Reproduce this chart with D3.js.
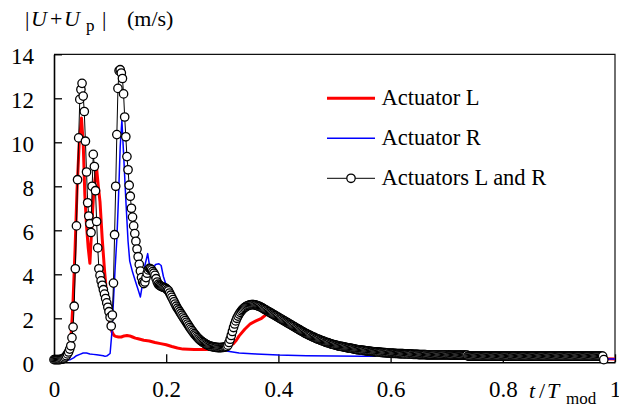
<!DOCTYPE html>
<html><head><meta charset="utf-8">
<script src="https://cdn.jsdelivr.net/npm/d3@7"></script>
<style>body{margin:0;background:#fff} svg{display:block}</style>
</head><body>
<svg id="c" width="619" height="407"></svg>
<script>
// ---- data ----
const seriesNames = ["Actuator L", "Actuator R", "Actuators L and R"];
const xTicks = [0, 0.2, 0.4, 0.6, 0.8, 1];
const yTicks = [0, 2, 4, 6, 8, 10, 12, 14];

// Actuator L (red)
const redT = [0,0.01,0.02,0.025,0.028,0.031,0.034,0.0375,0.041,0.045,0.049,0.052,0.055,0.058,0.061,0.064,0.067,0.070,0.073,0.076,0.079,0.082,0.086,0.090,0.094,0.098,0.101,0.104,0.107,0.110,0.115,0.120,0.125,0.130,0.135,0.140,0.145,0.150,0.160,0.170,0.180,0.190,0.200,0.210,0.220,0.230,0.250,0.270,0.290,0.310,0.320,0.325,0.330,0.340,0.350,0.360,0.370,0.380,0.390,0.400,0.450,0.500,0.550,0.600,0.700,0.800,1.000];
const redV = [0.12,0.12,0.15,0.3,0.7,1.4,2.8,5.1,7.8,10.0,11.1,10.0,7.6,6.2,5.2,4.5,6.0,7.4,8.3,8.8,8.0,7.3,5.6,4.2,3.0,2.0,1.55,1.35,1.22,1.18,1.15,1.15,1.2,1.22,1.2,1.15,1.1,1.07,1.0,0.97,0.9,0.85,0.8,0.72,0.65,0.6,0.58,0.58,0.6,0.7,0.85,1.0,1.2,1.5,1.75,1.88,2.0,2.2,2.3,2.1,1.3,0.85,0.58,0.42,0.3,0.26,0.15];

// Actuator R (blue)
const blueT = [0,0.02,0.029,0.035,0.040,0.046,0.052,0.058,0.064,0.070,0.076,0.082,0.088,0.091,0.095,0.100,0.103,0.106,0.109,0.112,0.115,0.118,0.121,0.124,0.128,0.132,0.135,0.140,0.145,0.150,0.154,0.158,0.162,0.167,0.169,0.172,0.176,0.181,0.187,0.191,0.195,0.200,0.210,0.220,0.240,0.260,0.280,0.290,0.300,0.310,0.330,0.360,0.380,0.400,0.450,0.500,0.550,0.580,0.650,0.800,1.000];
const blueV = [0.1,0.1,0.12,0.2,0.3,0.36,0.42,0.42,0.38,0.36,0.34,0.32,0.3,0.27,0.3,0.4,1.3,2.8,4.3,5.6,7.5,9.8,11.0,9.5,7.4,5.5,4.6,4.1,3.7,3.3,2.97,3.6,4.4,4.94,4.6,4.15,4.2,4.45,4.48,4.4,3.9,3.5,3.1,2.5,1.7,1.05,0.72,0.62,0.58,0.5,0.42,0.38,0.36,0.33,0.3,0.29,0.28,0.27,0.25,0.22,0.15];

// Actuators L and R (black, circles), sampled every tStep in t/Tmod
const tStep = 0.002;
const bothV = [
0.12,0.12,0.12,0.12,0.12,0.12,0.13,0.14,0.16,0.19,
0.24,0.30,0.38,0.47,0.60,0.75,1.12,1.60,2.55,4.25,
6.20,8.30,10.20,11.95,12.40,12.68,12.10,11.40,10.05,8.65,
7.25,6.65,6.30,5.90,8.00,9.45,8.90,7.80,6.40,5.20,
4.25,3.95,3.70,3.50,3.30,3.10,2.90,2.70,2.50,2.30,
2.05,1.65,2.15,3.60,5.80,8.00,10.35,12.45,13.25,13.30,
13.15,12.90,12.20,11.15,10.25,9.35,8.75,8.05,7.55,7.00,
6.60,6.20,5.85,5.50,5.15,4.80,4.45,4.15,3.85,3.65,
3.58,3.65,3.85,4.05,4.20,4.27,4.25,4.20,4.12,4.05,
3.95,3.80,3.65,3.55,3.50,3.47,3.44,3.42,3.40,3.38,
3.35,3.30,3.25,3.15,3.05,2.95,2.85,2.75,2.65,2.55,
2.46,2.38,2.30,2.22,2.14,2.06,1.98,1.90,1.82,1.74,
1.66,1.58,1.51,1.44,1.37,1.30,1.24,1.18,1.12,1.07,
1.02,0.98,0.94,0.90,0.87,0.84,0.81,0.78,0.76,0.74,
0.72,0.71,0.70,0.69,0.68,0.68,0.67,0.67,0.67,0.67,
0.68,0.68,0.69,0.70,0.72,0.78,0.90,1.05,1.22,1.40,
1.58,1.74,1.88,2.00,2.10,2.19,2.27,2.34,2.40,2.45,
2.49,2.53,2.56,2.58,2.60,2.61,2.62,2.62,2.62,2.61,
2.60,2.58,2.56,2.54,2.52,2.49,2.46,2.43,2.40,2.37,
2.34,2.31,2.28,2.25,2.22,2.19,2.16,2.13,2.10,2.07,
2.04,2.01,1.98,1.95,1.92,1.89,1.86,1.83,1.80,1.77,
1.74,1.71,1.68,1.65,1.62,1.59,1.56,1.53,1.50,1.47,
1.44,1.41,1.38,1.35,1.32,1.30,1.27,1.25,1.22,1.20,
1.17,1.15,1.13,1.10,1.08,1.06,1.04,1.02,1.00,0.98,
0.96,0.94,0.92,0.90,0.89,0.87,0.85,0.84,0.82,0.81,
0.79,0.78,0.77,0.75,0.74,0.73,0.72,0.71,0.70,0.69,
0.68,0.67,0.66,0.65,0.64,0.63,0.62,0.61,0.60,0.59,
0.58,0.57,0.57,0.56,0.55,0.54,0.54,0.53,0.52,0.52,
0.51,0.51,0.50,0.49,0.49,0.48,0.48,0.47,0.47,0.46,
0.46,0.45,0.45,0.44,0.44,0.44,0.43,0.43,0.43,0.42,
0.42,0.42,0.41,0.41,0.41,0.40,0.40,0.40,0.39,0.39,
0.39,0.39,0.38,0.38,0.38,0.38,0.37,0.37,0.37,0.37,
0.36,0.36,0.36,0.36,0.36,0.35,0.35,0.35,0.35,0.35,
0.35,0.35,0.34,0.34,0.34,0.34,0.34,0.34,0.34,0.34,
0.34,0.34,0.34,0.34,0.34,0.34,0.34,0.34,0.34,0.34,
0.34,0.34,0.34,0.33,0.33,0.33,0.33,0.33,0.33,0.33,
0.33,0.33,0.33,0.33,0.33,0.33,0.33,0.33,0.33,0.28,
0.28,0.28,0.28,0.28,0.28,0.28,0.28,0.28,0.28,0.28,
0.28,0.28,0.28,0.28,0.28,0.28,0.28,0.28,0.28,0.28,
0.28,0.28,0.28,0.28,0.28,0.28,0.28,0.28,0.28,0.28,
0.28,0.28,0.28,0.28,0.28,0.28,0.28,0.28,0.28,0.28,
0.28,0.28,0.28,0.28,0.28,0.28,0.28,0.28,0.28,0.28,
0.28,0.28,0.28,0.28,0.28,0.28,0.28,0.28,0.28,0.28,
0.28,0.28,0.28,0.28,0.28,0.28,0.28,0.28,0.28,0.28,
0.28,0.28,0.28,0.28,0.28,0.28,0.28,0.28,0.28,0.28,
0.28,0.28,0.28,0.28,0.28,0.28,0.28,0.28,0.28,0.28,
0.28,0.28,0.28,0.28,0.28,0.28,0.28,0.28,0.28,0.28,
0.28,0.28,0.28,0.28,0.28,0.28,0.28,0.28,0.28,0.28,
0.28,0.28,0.28,0.28,0.28,0.28,0.28,0.28,0.28,0.28,
0.12
];

// ---- drawing ----
const FONT = '"Liberation Serif","Times New Roman",Times,serif';
const svg = d3.select("#c");
const x = d3.scaleLinear().domain([0, 1]).range([54, 615]);
const y = d3.scaleLinear().domain([0, 14]).range([362.3, 54.3]);

const red = redT.map((t, i) => [t, redV[i]]);
const blue = blueT.map((t, i) => [t, blueV[i]]);
const both = bothV.map((v, i) => [i * tStep, v]);

// frame (top and right)
svg.append("path")
  .attr("d", `M${x(0)},${y(14)}H${x(1)}V${y(0)}`)
  .attr("fill", "none").attr("stroke", "#111").attr("stroke-width", 1.2);

// axes
const gx = svg.append("g").attr("transform", `translate(0,${y(0)})`)
  .call(d3.axisBottom(x).tickValues(xTicks).tickSize(-8).tickSizeOuter(0).tickFormat(d => String(d)));
gx.select(".domain").attr("stroke", "#000").attr("stroke-width", 1.6);
gx.selectAll(".tick line").attr("stroke", "#000").attr("stroke-width", 1.3);
gx.selectAll(".tick text").attr("y", 35).attr("dy", 0)
  .attr("font-family", FONT).attr("font-size", 23).attr("fill", "#000");

const gy = svg.append("g").attr("transform", `translate(${x(0)},0)`)
  .call(d3.axisLeft(y).tickValues(yTicks).tickSize(-8).tickSizeOuter(0).tickFormat(d => String(d)));
gy.select(".domain").attr("stroke", "#000").attr("stroke-width", 1.6);
gy.selectAll(".tick line").attr("stroke", "#000").attr("stroke-width", 1.3);
gy.selectAll(".tick text").attr("x", -20).attr("y", 9).attr("dy", 0)
  .attr("text-anchor", "end")
  .attr("font-family", FONT).attr("font-size", 23).attr("fill", "#000");

const line = d3.line().x(d => x(d[0])).y(d => y(d[1]));

svg.append("path").datum(red).attr("d", line)
  .attr("fill", "none").attr("stroke", "#ff0000").attr("stroke-width", 3).attr("stroke-linejoin", "round");
svg.append("path").datum(blue).attr("d", line)
  .attr("fill", "none").attr("stroke", "#0000ff").attr("stroke-width", 1.5).attr("stroke-linejoin", "round");
svg.append("path").datum(both).attr("d", line)
  .attr("fill", "none").attr("stroke", "#000").attr("stroke-width", 1);
svg.append("g").selectAll("circle").data(both).join("circle")
  .attr("cx", d => x(d[0])).attr("cy", d => y(d[1])).attr("r", 4.2)
  .attr("fill", "#fff").attr("stroke", "#000").attr("stroke-width", 1.3);

// y-axis title
const title = svg.append("text").attr("y", 26).attr("font-family", FONT).attr("font-size", 22).attr("fill", "#000");
title.append("tspan").attr("x", 25).text("|");
title.append("tspan").attr("x", 31).attr("font-style", "italic").text("U");
title.append("tspan").attr("x", 50).text("+");
title.append("tspan").attr("x", 64).attr("font-style", "italic").text("U");
title.append("tspan").attr("x", 86).attr("dy", 5).attr("font-size", 17).text("p");
title.append("tspan").attr("x", 102).attr("dy", -5).text("|");
title.append("tspan").attr("x", 127).text("(m/s)");

// x-axis title
const xt = svg.append("text").attr("y", 398).attr("font-family", FONT).attr("font-size", 22).attr("fill", "#000");
xt.append("tspan").attr("x", 529).attr("font-style", "italic").text("t");
xt.append("tspan").attr("x", 539).text("/");
xt.append("tspan").attr("x", 547).attr("font-style", "italic").text("T");
xt.append("tspan").attr("x", 566).attr("dy", 6).attr("font-size", 17).text("mod");

// legend
const legY = [98.3, 138.3, 178.3];
const legStyle = [
  {stroke: "#ff0000", w: 3, marker: false},
  {stroke: "#0000ff", w: 1.5, marker: false},
  {stroke: "#000", w: 1, marker: true}
];
const leg = svg.append("g");
seriesNames.forEach((name, i) => {
  leg.append("line").attr("x1", 327).attr("x2", 375).attr("y1", legY[i]).attr("y2", legY[i])
    .attr("stroke", legStyle[i].stroke).attr("stroke-width", legStyle[i].w);
  if (legStyle[i].marker) {
    leg.append("circle").attr("cx", 351).attr("cy", legY[i]).attr("r", 4.2)
      .attr("fill", "#fff").attr("stroke", "#000").attr("stroke-width", 1.3);
  }
  leg.append("text").attr("x", 381.5).attr("y", legY[i] + 6.7)
    .attr("font-family", FONT).attr("font-size", 22.5).attr("fill", "#000").text(name);
});
</script>
</body></html>
